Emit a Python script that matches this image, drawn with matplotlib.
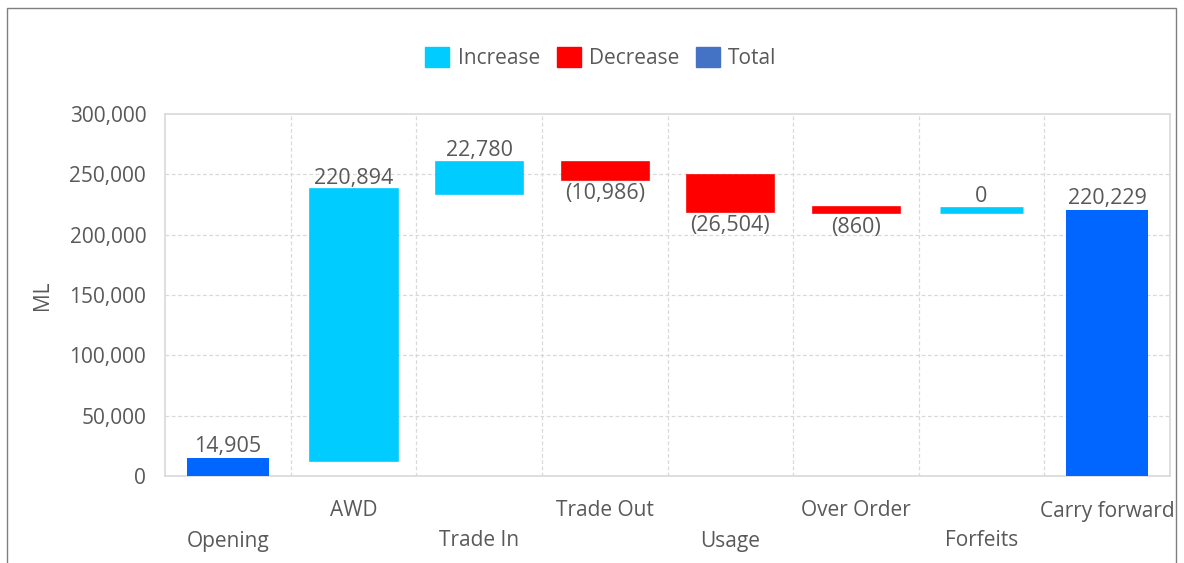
import matplotlib
matplotlib.use("Agg")
import matplotlib.pyplot as plt
from matplotlib.patches import Patch, Rectangle
from matplotlib.ticker import FuncFormatter, MultipleLocator

categories = ["Opening", "AWD", "Trade In", "Trade Out", "Usage", "Over Order", "Forfeits", "Carry forward"]
opening = 14905
changes = [220894, 22780, -10986, -26504, -860, 0]
carry_forward = 220229

c_inc = "#00CCFF"
c_dec = "#FF0000"
c_tot = "#0066FF"
c_tot_legend = "#4472C4"
txt = "#595959"
grid_c = "#D9D9D9"

plt.rcParams['font.family'] = ['Open Sans', 'DejaVu Sans']
FS = 15
FS_LBL = 15.5

fig = plt.figure(figsize=(11.84, 5.63), dpi=100)
ax = fig.add_axes([165/1184, 1-476/563, (1170-165)/1184, (476-114)/563])

w = 0.655
# opening
ax.bar(0, opening, width=w, color=c_tot, zorder=3)
ax.annotate(f"{opening:,}", (0, opening), xytext=(0, 1), textcoords="offset points",
            ha="center", va="bottom", fontsize=FS_LBL, color=txt)
running = opening
for i, v in enumerate(changes, start=1):
    if v >= 0:
        bottom = running
        col = c_inc
    else:
        bottom = running + v
        col = c_dec
    ax.bar(i, abs(v), bottom=bottom, width=w, color=col, edgecolor=col,
           linewidth=4.8, zorder=3)
    if v >= 0:
        ax.annotate(f"{v:,}", (i, bottom + abs(v)), xytext=(0, 2), textcoords="offset points",
                    ha="center", va="bottom", fontsize=FS_LBL, color=txt)
    else:
        ax.annotate(f"({abs(v):,})", (i, bottom), xytext=(0, -4.5), textcoords="offset points",
                    ha="center", va="top", fontsize=FS_LBL, color=txt)
    running += v
n = len(categories) - 1
ax.bar(n, carry_forward, width=w, color=c_tot, zorder=3)
ax.annotate(f"{carry_forward:,}", (n, carry_forward), xytext=(0, 1), textcoords="offset points",
            ha="center", va="bottom", fontsize=FS_LBL, color=txt)

ax.set_xlim(-0.5, len(categories) - 0.5)
ax.set_ylim(0, 300000)
ax.yaxis.set_major_locator(MultipleLocator(50000))
ax.yaxis.set_major_formatter(FuncFormatter(lambda v, p: f"{int(v):,}"))
ax.tick_params(axis="y", length=0, labelsize=FS, labelcolor=txt, pad=13.5)
ax.set_xticks(range(len(categories)))
ax.set_xticklabels([])
ax.tick_params(axis="x", length=0)
for i, c in enumerate(categories):
    off = -65 if i % 2 == 0 else -35
    ax.annotate(c, (i, 0), xycoords=("data", "axes fraction"), xytext=(0, off),
                textcoords="offset pixels", ha="center", va="center", fontsize=FS, color=txt)

# grid
for y in range(50000, 300000, 50000):
    ax.axhline(y, color=grid_c, lw=0.9, ls=(0, (3, 2)), zorder=1)
for x in range(len(categories) - 1):
    ax.axvline(x + 0.5, color=grid_c, lw=0.9, ls=(0, (3, 2)), zorder=1)
for s in ax.spines.values():
    s.set_color(grid_c)
    s.set_linewidth(1.2)

ax.set_ylabel("ML", fontsize=FS, color=txt, labelpad=12)

handles = [Patch(color=c_inc, label="Increase"), Patch(color=c_dec, label="Decrease"),
           Patch(color=c_tot_legend, label="Total")]
fig.legend(handles=handles, loc="center", bbox_to_anchor=(601/1184, 1-58/563), ncol=3,
           frameon=False, fontsize=FS, handlelength=1.15, handleheight=1.15,
           handletextpad=0.4, columnspacing=0.8, labelcolor=txt)

fig.patches.append(Rectangle((7/1184, -0.01), (1176-7)/1184, 1-8/563+0.01, transform=fig.transFigure,
                             fill=False, edgecolor="#7F7F7F", lw=1.0))

fig.savefig("out.png", dpi=100)
